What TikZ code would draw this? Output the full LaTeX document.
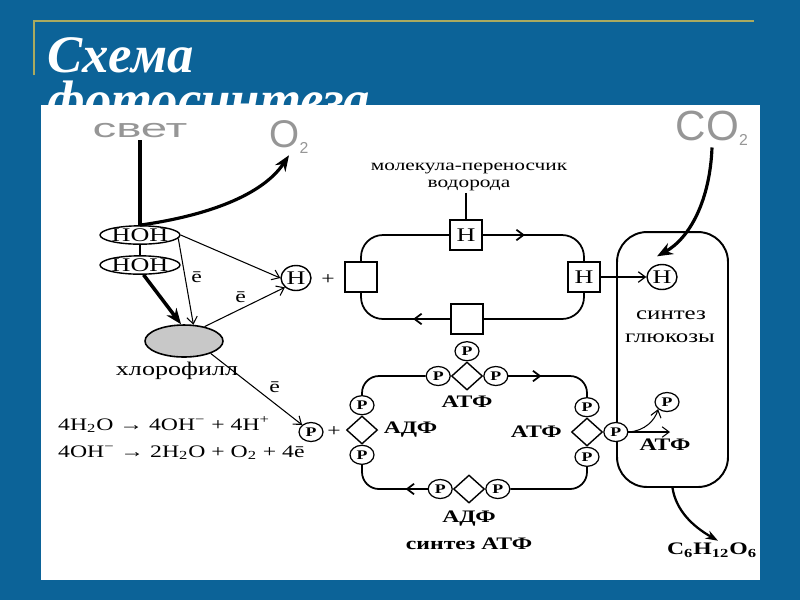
\documentclass[tikz,border=0pt]{standalone}
\usepackage{fontspec}
\setmainfont{Liberation Serif}[FakeStretch=1.35]
\newfontfamily\titlefont{Liberation Serif}
\newfontfamily\gasfont{Liberation Sans}
\newfontfamily\svetfont{Liberation Sans}[FakeStretch=1.8]
\usetikzlibrary{shapes.geometric,positioning,arrows.meta}
\definecolor{slideblue}{RGB}{12,99,152}
\definecolor{rulecol}{RGB}{170,170,95}
\definecolor{gastext}{RGB}{150,150,150}
\definecolor{chlfill}{RGB}{200,200,200}

\begin{document}
\begin{tikzpicture}[x=0.02cm,y=-0.02cm,>={Straight Barb[length=4pt,width=6pt]}]
  \tikzstyle{hcirc}=[ellipse,draw,fill=white,line width=0.8pt,minimum width=0.6cm,minimum height=0.5cm,inner sep=0pt,font=\fontsize{11}{11}\selectfont]
  \tikzstyle{pcirc}=[ellipse,draw,fill=white,line width=0.7pt,minimum width=0.48cm,minimum height=0.38cm,inner sep=0pt,font=\bfseries\fontsize{7.5}{7.5}\selectfont]
  \tikzstyle{hbox}=[rectangle,draw,fill=white,line width=1pt,minimum width=0.64cm,minimum height=0.6cm,inner sep=0pt,font=\fontsize{11}{11}\selectfont]
  \tikzstyle{phos}=[diamond,draw,fill=white,line width=0.8pt,minimum width=0.62cm,minimum height=0.56cm,inner sep=0pt]
  \tikzstyle{hoh}=[ellipse,draw,line width=0.8pt,minimum width=1.48cm,minimum height=0.34cm,inner sep=0pt,font=\fontsize{11}{11}\selectfont]
  \tikzstyle{el}=[->,line width=0.6pt]
  \tikzstyle{heavy}=[-{Stealth[length=9pt,width=7pt]},line width=1.8pt]
  \tikzstyle{gas}=[text=gastext,inner sep=1pt]
  \tikzstyle{lab}=[inner sep=1pt,font=\bfseries\fontsize{10}{10}\selectfont]
  \tikzstyle{hloop}=[line width=1pt,rounded corners=0.44cm]
  \tikzstyle{ploop}=[line width=1pt,rounded corners=0.34cm]

  % slide
  \fill[slideblue] (0,0) rectangle (800,600);
  \draw[rulecol,line width=1.2pt] (34,75) -- (34,21) -- (754,21);
  \node[anchor=base west,text=white,inner sep=0pt,font=\titlefont\bfseries\itshape\fontsize{30}{30}\selectfont] (title) at (47,72) {Схема};
  \begin{scope}
    \clip (0,80) rectangle (800,105);
    \node[anchor=base west,text=white,inner sep=0pt,font=\titlefont\bfseries\itshape\fontsize{30}{30}\selectfont] (title2) at (47,117) {фотосинтеза};
  \end{scope}
  \fill[white] (41,105) rectangle (760,580);

  % light phase
  \node[gas,font=\svetfont\fontsize{15}{15}\selectfont] (svet) at (140,131) {свет};
  \node[gas,font=\gasfont\fontsize{22}{22}\selectfont] (o2) at (289,137) {O{\fontsize{9}{9}\selectfont\raisebox{-3pt}{2}}};
  \node[gas,font=\gasfont\fontsize{24}{24}\selectfont] (co2) at (712,128) {CO{\fontsize{9}{9}\selectfont\raisebox{-3pt}{2}}};
  \node[hoh] (hoh1) at (140,235) {HOH};
  \node[hoh] (hoh2) at (140,265) {HOH};
  \node[ellipse,draw,fill=chlfill,line width=0.9pt,minimum width=1.56cm,minimum height=0.64cm] (chl) at (184,341) {};
  \node[font=\fontsize{11}{11}\selectfont] (chlname) at (177,371) {хлорофилл};
  \node[hcirc] (hl) at (296,278) {H};
  \node (plus1) at (328,280) {+};
  \node[pcirc] (pin) at (311,432) {P};
  \node (plus2) at (334,432) {+};
  \node[anchor=base west] (eq1) at (52,430) {4H\textsubscript{2}O → 4OH\textsuperscript{−} + 4H\textsuperscript{+}};
  \node[anchor=base west] (eq2) at (52,457) {4OH\textsuperscript{−} → 2H\textsubscript{2}O + O\textsubscript{2} + 4ē};

  \draw[line width=2pt] (svet.south) -- (hoh1.north);
  \draw[heavy] (hoh1.north) .. controls (205,216) and (262,196) .. (o2.south);
  \draw[line width=0.6pt] (hoh1.south) -- (hoh2.north);
  \draw[heavy,line width=2pt] (hoh2.-70) -- (chl.100);
  \draw[el] (hoh1.-5) -- (chl.60) node[pos=.45,right] {ē};
  \draw[el] (hoh1.east) -- (hl.west);
  \draw[el] (chl.35) -- (hl.220) node[pos=.45,above] {ē};
  \draw[el] (chl.-25) -- (pin.north west) node[pos=.6,above right=-2pt] {ē};

  % hydrogen carrier
  \node[hbox] (bl) at (361,277) {};
  \node[hbox] (ht) at (466,235) {H};
  \node[hbox] (hr) at (584,277) {H};
  \node[hbox] (bb) at (467,319) {};
  \node[align=center,inner sep=1pt,font=\fontsize{9}{9.5}\selectfont] (carrier) at (469,177) {молекула-переносчик\\водорода};
  \draw[line width=0.6pt] (carrier.south -| ht.north) -- (ht.north);
  \draw[hloop] (bl.north) |- (ht.west);
  \draw[hloop] (ht.east) -| (hr.north);
  \draw[hloop] (hr.south) |- (bb.east);
  \draw[hloop] (bb.west) -| (bl.south);
  \draw[->,line width=1pt] (ht.east) -- ++(42,0);
  \draw[->,line width=1pt] (bb.west) -- ++(-37,0);

  % glucose
  \node[draw,line width=1.1pt,rounded corners=0.6cm,minimum width=2.22cm,minimum height=5.1cm] (gluc) at (672.5,359.5) {};
  \node[hcirc] (hg) at (662,277) {H};
  \node[font=\fontsize{10.5}{10.5}\selectfont] (sint) at (671,315) {синтез};
  \node[font=\fontsize{10.5}{10.5}\selectfont] (gluk) at (670,338) {глюкозы};
  \coordinate (co2in) at ([xshift=-0.1cm,yshift=0.15cm]hg.north);
  \draw[->,line width=0.7pt] (hr.east) -- (hg.west);
  \draw[heavy] (co2.south) .. controls (710,200) and (690,238) .. (co2in);

  % ATP cycle
  \node[phos] (dt) at (467,376) {};
  \node[pcirc,above=0pt of dt] (ptt) {P};
  \node[pcirc,left=0pt of dt] (ptl) {P};
  \node[pcirc,right=0pt of dt] (ptr) {P};
  \node[lab,below=2pt of dt] (atpt) {АТФ};
  \node[phos] (dl) at (362,430) {};
  \node[pcirc,above=0pt of dl] (plt) {P};
  \node[pcirc,below=0pt of dl] (plb) {P};
  \node[lab,right=2pt of dl] (adpl) {АДФ};
  \node[phos] (dr) at (587,432) {};
  \node[pcirc,above=0pt of dr] (prt) {P};
  \node[pcirc,below=0pt of dr] (prb) {P};
  \node[pcirc,right=0pt of dr] (prr) {P};
  \node[lab,left=4pt of dr] (atpr) {АТФ};
  \node[phos] (db) at (469,489) {};
  \node[pcirc,left=0pt of db] (pbl) {P};
  \node[pcirc,right=0pt of db] (pbr) {P};
  \node[lab,below=3pt of db] (adpb) {АДФ};
  \node[lab,below=4pt of adpb] (synth) {синтез АТФ};
  \draw[ploop] (plt.north) |- (ptl.west);
  \draw[ploop] (ptr.east) -| (prt.north);
  \draw[ploop] (prb.south) |- (pbr.east);
  \draw[ploop] (pbl.west) -| (plb.south);
  \draw[->,line width=1pt] (ptr.east) -- ++(33,0);
  \draw[->,line width=1pt] (pbl.west) -- ++(-22,0);

  % products
  \node[pcirc] (pg) at (667,402) {P};
  \node[lab] (atpg) at (665,445) {АТФ};
  \coordinate (atpend) at (670,432);
  \draw[el] (prr.east) -- (atpend);
  \draw[el] (prr.east) .. controls (645,431) and (655,420) .. (pg.south west);
  \node[lab] (c6) at (712,550) {C\textsubscript{6}H\textsubscript{12}O\textsubscript{6}};
  \draw[-{Stealth[length=7pt,width=5pt]},line width=1.3pt] (gluc.south) .. controls (676,510) and (692,526) .. ([xshift=0.12cm]c6.north);
\end{tikzpicture}
\end{document}
